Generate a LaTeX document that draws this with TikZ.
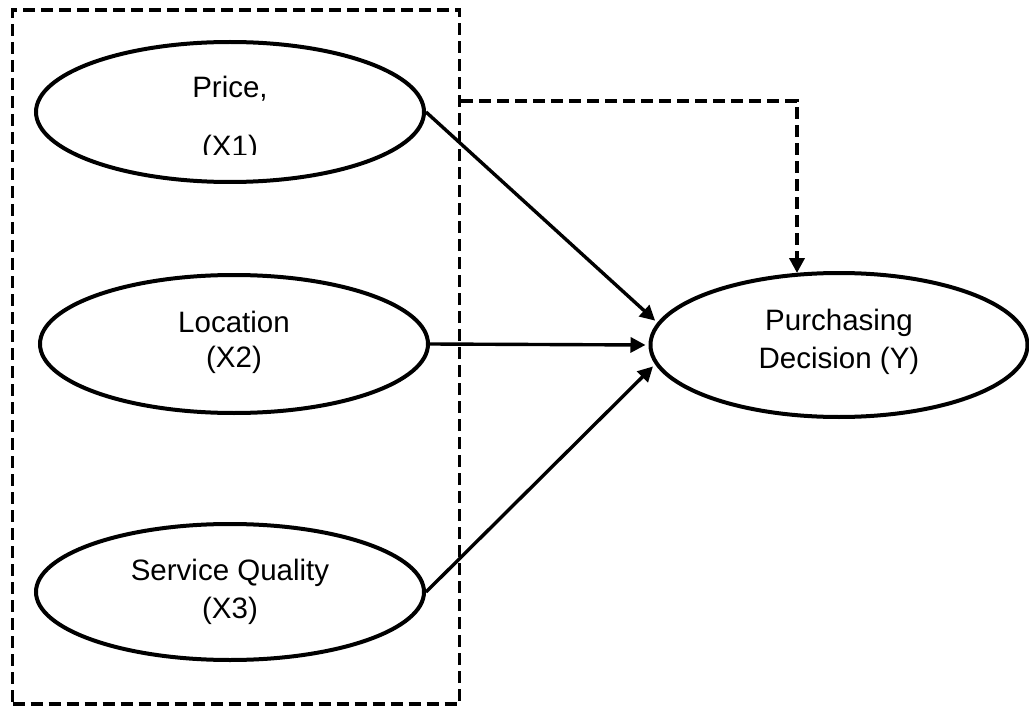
\documentclass[tikz,border=0pt]{standalone}
\usepackage{fontspec}
\setmainfont{Liberation Sans}
\usetikzlibrary{shapes.geometric,arrows.meta,calc}
\begin{document}
\begin{tikzpicture}[x=1pt,y=-1pt,
  var/.style={ellipse,draw,line width=4pt,inner sep=0pt,minimum width=388pt,minimum height=140pt},
  lbl/.style={anchor=base,inner sep=0pt,font=\fontsize{29.5}{34}\selectfont},
  conn/.style={line width=3.4pt,-{Triangle[length=15pt,width=15pt]},shorten >=3pt},
  dconn/.style={line width=3.8pt,dash pattern=on 12pt off 6pt,-{Triangle[length=15pt,width=15pt]}},
  frame/.style={draw,line width=3.8pt,dash pattern=on 12pt off 6pt}]
\useasboundingbox (0,0) rectangle (1029,706);
\node[frame,minimum width=447pt,minimum height=694pt,inner sep=0pt] (box) at (236,357) {};
\node[var] (x1) at (230,112) {};
\node[var,minimum height=138pt] (x2) at (234,344) {};
\node[var,minimum height=136pt] (x3) at (230,592) {};
\node[var,minimum width=377pt,minimum height=144pt] (y) at (839,345) {};
\node[lbl] (t1a) at (230,98) {Price,};
\begin{scope}
\clip (0,0) rectangle (1029,155);
\node[lbl] (t1b) at (230,157) {(X1)};
\end{scope}
\node[lbl] (t2a) at (234,332) {Location};
\node[lbl] (t2b) at (234,367) {(X2)};
\node[lbl] (t3a) at (230,580) {Service Quality};
\node[lbl] (t3b) at (230,618) {(X3)};
\node[lbl] (tya) at (839,330) {Purchasing};
\node[lbl] (tyb) at (839,368) {Decision (Y)};
\draw[conn] (x1.east) -- (y.173);
\draw[conn] (x2.east) -- (y.west);
\draw[conn] (x3.east) -- (y.186);
\coordinate (d0) at (box.east |- 0,101);
\coordinate (d1) at (797,273);
\draw[dconn] (d0) -| (d1);
\end{tikzpicture}
\end{document}
